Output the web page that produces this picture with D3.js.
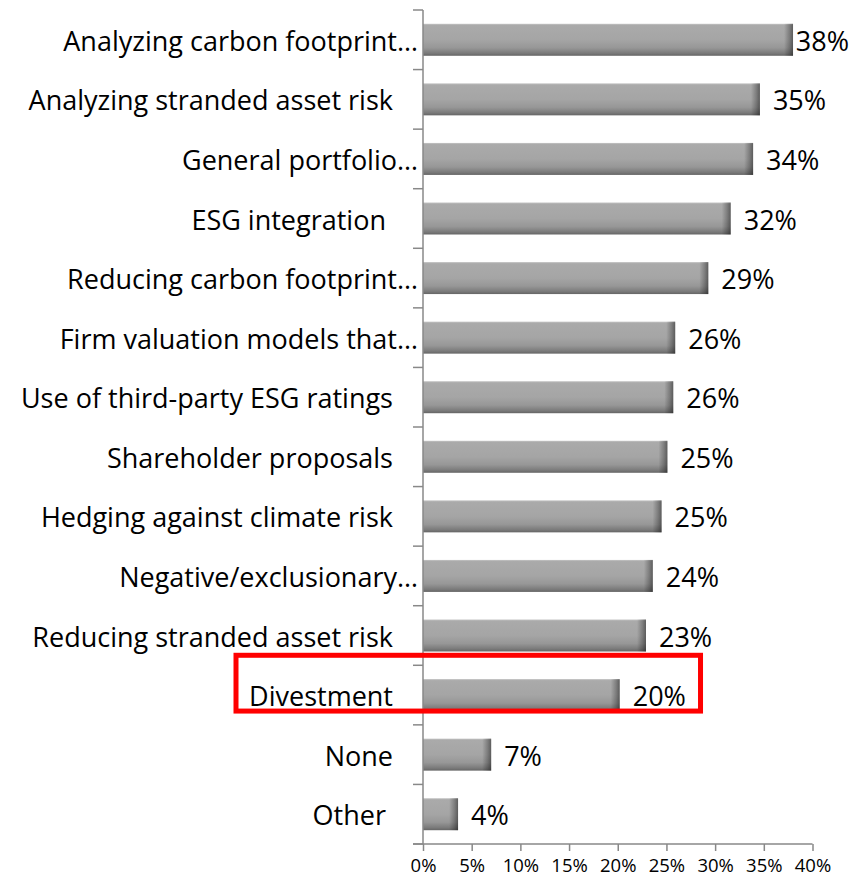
<!DOCTYPE html>
<html>
<head>
<meta charset="utf-8">
<script src="https://cdn.jsdelivr.net/npm/d3@7"></script>
<style>
  html, body { margin: 0; padding: 0; background: #fff; }
  svg { display: block; }
  text { font-family: "Open Sans", Lato, sans-serif; fill: #000; }
  .cat { white-space: pre; }
</style>
</head>
<body>
<svg id="chart" width="865" height="882"></svg>
<script>
// ---- data ----
const categories = [
  "Analyzing carbon footprint…",
  "Analyzing stranded asset risk ",
  "General portfolio…",
  "ESG integration  ",
  "Reducing carbon footprint…",
  "Firm valuation models that…",
  "Use of third-party ESG ratings ",
  "Shareholder proposals ",
  "Hedging against climate risk ",
  "Negative/exclusionary…",
  "Reducing stranded asset risk ",
  "Divestment ",
  "None ",
  "Other  "
];
const values = [0.380, 0.346, 0.339, 0.316, 0.293, 0.259, 0.257, 0.251, 0.245, 0.236, 0.229, 0.202, 0.070, 0.036];
const valueLabels = ["38%", "35%", "34%", "32%", "29%", "26%", "26%", "25%", "25%", "24%", "23%", "20%", "7%", "4%"];
const xTicks = [0, 0.05, 0.10, 0.15, 0.20, 0.25, 0.30, 0.35, 0.40];
const highlighted = "Divestment ";

// ---- layout ----
const svg = d3.select("#chart");
const plot = { left: 423, right: 812.5, top: 10, bottom: 844 };
const axisColor = "#888888";

const x = d3.scaleLinear().domain([0, 0.4]).range([plot.left, plot.right]);
const pad = 0.463;
const y = d3.scaleBand().domain(categories).range([plot.top, plot.bottom])
  .paddingInner(pad).paddingOuter(pad / 2);
const step = y.step();

// gradients
const defs = svg.append("defs");
const vg = defs.append("linearGradient").attr("id", "barV")
  .attr("x1", 0).attr("y1", 0).attr("x2", 0).attr("y2", 1);
[[0, "#c4c4c4"], [0.05, "#aaaaaa"], [0.5, "#a5a5a5"], [0.75, "#979797"], [0.92, "#7a7a7a"], [1, "#656565"]]
  .forEach(([o, c]) => vg.append("stop").attr("offset", o).attr("stop-color", c));
const hg = defs.append("linearGradient").attr("id", "barH")
  .attr("x1", 0).attr("y1", 0).attr("x2", 1).attr("y2", 0);
[[0, "rgba(0,0,0,0)"], [0.6, "rgba(0,0,0,0.25)"], [1, "rgba(0,0,0,0.45)"]]
  .forEach(([o, c]) => hg.append("stop").attr("offset", o).attr("stop-color", c));

// bars
const bars = svg.append("g").selectAll("g").data(categories).join("g");
bars.append("rect")
  .attr("x", x(0))
  .attr("y", d => y(d))
  .attr("width", (d, i) => x(values[i]) - x(0))
  .attr("height", y.bandwidth())
  .attr("fill", "url(#barV)");
bars.append("rect")
  .attr("x", (d, i) => x(values[i]) - Math.min(9, (x(values[i]) - x(0)) * 0.4))
  .attr("y", d => y(d))
  .attr("width", (d, i) => Math.min(9, (x(values[i]) - x(0)) * 0.4))
  .attr("height", y.bandwidth())
  .attr("fill", "url(#barH)");

// y axis (category axis)
const yAxis = svg.append("g");
yAxis.append("line")
  .attr("x1", plot.left).attr("x2", plot.left)
  .attr("y1", plot.top).attr("y2", plot.bottom)
  .attr("stroke", axisColor).attr("stroke-width", 1.5);
const bounds = d3.range(categories.length + 1).map(i => plot.top + i * step);
yAxis.selectAll("line.tick").data(bounds).join("line").attr("class", "tick")
  .attr("x1", plot.left - 10).attr("x2", plot.left)
  .attr("y1", d => d).attr("y2", d => d)
  .attr("stroke", axisColor).attr("stroke-width", 1.5);

// category labels (trailing spaces preserved, as in the source)
const catFont = 27;
svg.append("g").selectAll("text").data(categories).join("text")
  .attr("class", "cat")
  .attr("x", d => d.endsWith("…") ? plot.left - 5 : plot.left - 23)
  .attr("y", d => y(d) + y.bandwidth() / 2 + 11)
  .attr("text-anchor", "end")
  .attr("font-size", catFont)
  .text(d => d);

// value labels
const valFont = 27;
svg.append("g").selectAll("text").data(categories).join("text")
  .attr("y", d => y(d) + y.bandwidth() / 2 + 11)
  .attr("font-size", valFont)
  .text((d, i) => valueLabels[i])
  .each(function(d, i) {
    const w = this.getComputedTextLength();
    d3.select(this).attr("x", Math.min(x(values[i]) + 13, 849 - w));
  });

// x axis
const xAxis = svg.append("g").attr("transform", `translate(0,${plot.bottom})`)
  .call(d3.axisBottom(x).tickValues(xTicks).tickFormat(d3.format(".0%")).tickSize(7).tickPadding(8));
xAxis.select(".domain").remove();
xAxis.append("line").attr("x1", plot.left - 10).attr("x2", plot.right).attr("y1", 0).attr("y2", 0)
  .attr("stroke", axisColor).attr("stroke-width", 1.5);
xAxis.selectAll(".tick line").attr("stroke", axisColor).attr("stroke-width", 1.5);
xAxis.selectAll(".tick text").attr("font-size", 18.5).attr("font-family", "'Open Sans', sans-serif").attr("fill", "#000");

// highlight box around Divestment
const hIdx = categories.indexOf(highlighted);
const slotTop = plot.top + hIdx * step;
const boxTop = slotTop - 10;
const boxBottom = y(highlighted) + y.bandwidth();
svg.append("rect")
  .attr("x", 236)
  .attr("y", boxTop)
  .attr("width", x(0.285) - 236)
  .attr("height", boxBottom - boxTop)
  .attr("fill", "none")
  .attr("stroke", "#ff0000")
  .attr("stroke-width", 5);
</script>
</body>
</html>
